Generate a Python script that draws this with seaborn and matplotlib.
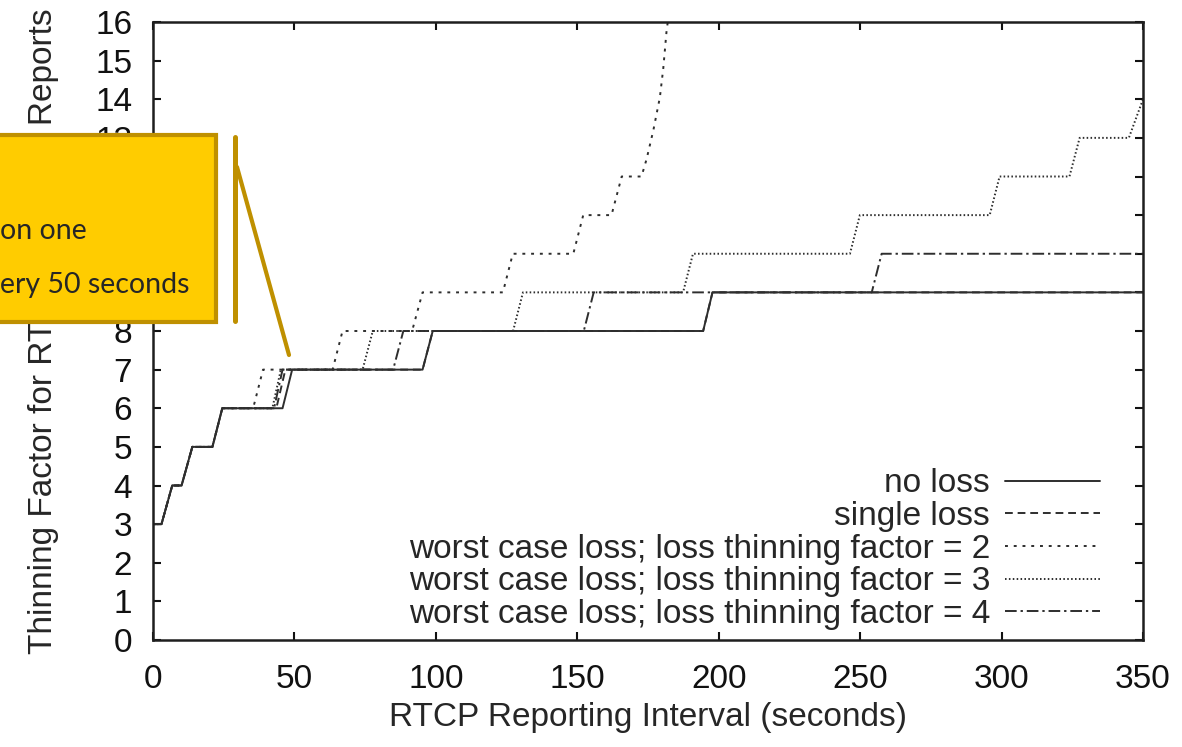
import numpy as np
import pandas as pd
import seaborn as sns
import matplotlib.pyplot as plt
from matplotlib.patches import Rectangle
from matplotlib.lines import Line2D

# step curves (x = RTCP interval in s, y = thinning factor)
no_loss_x = [0, 3, 6.8, 10.1, 13.9, 21, 24.5, 45.8, 49.2, 95.3, 98.9, 194.5, 197.8, 350]
no_loss_y = [3, 3, 4, 4, 5, 5, 6, 6, 7, 7, 8, 8, 9, 9]

single_x = [0, 3, 6.8, 10.1, 13.9, 21, 24.5, 43.6, 46.8, 95.3, 98.9, 194.5, 197.8, 350]
single_y = [3, 3, 4, 4, 5, 5, 6, 6, 7, 7, 8, 8, 9, 9]

f2_x = [0, 3, 6.8, 10.1, 13.9, 21, 24.5, 35.4, 38.9, 63.5, 67.0, 91.6, 95.3, 123.7, 127.2,
        148.6, 152.1, 162.1, 165.7, 172.7, 174.5, 176.9, 179.2, 180.4, 181.6, 182.0]
f2_y = [3, 3, 4, 4, 5, 5, 6, 6, 7, 7, 8, 8, 9, 9, 10,
        10, 11, 11, 12, 12, 12.45, 13.2, 14.05, 14.8, 15.8, 16.0]

f3_x = [0, 3, 6.8, 10.1, 13.9, 21, 24.5, 42.2, 45.2, 74.1, 77.7, 127.3, 130.8, 187.4, 190.9,
        246.4, 249.9, 295.8, 299.3, 324.0, 327.6, 345.0, 350]
f3_y = [3, 3, 4, 4, 5, 5, 6, 6, 7, 7, 8, 8, 9, 9, 10,
        10, 11, 11, 12, 12, 13, 13, 14]

f4_x = [0, 3, 6.8, 10.1, 13.9, 21, 24.5, 42.8, 45.8, 84.9, 88.5, 152.3, 155.8, 254.1, 257.6, 350]
f4_y = [3, 3, 4, 4, 5, 5, 6, 6, 7, 7, 8, 8, 9, 9, 10, 10]

labels = ["no loss", "single loss",
          "worst case loss; loss thinning factor = 2",
          "worst case loss; loss thinning factor = 3",
          "worst case loss; loss thinning factor = 4"]
series = [(no_loss_x, no_loss_y), (single_x, single_y), (f2_x, f2_y), (f3_x, f3_y), (f4_x, f4_y)]
styles = ["-", (0, (4, 2.5)), (0, (1.5, 3)), (0, (0.8, 1.2)), (0, (6, 2, 1.2, 2))]

x_ticks = [0, 50, 100, 150, 200, 250, 300, 350]
y_ticks = list(range(0, 17))

sns.set_style("ticks")
plt.rcParams["font.family"] = ["Liberation Sans", "DejaVu Sans"]

fig = plt.figure(figsize=(11.82, 7.47), dpi=100)
ax = fig.add_axes([153 / 1182, 1 - 640 / 747, 990 / 1182, 618 / 747])

for (xs, ys), lab, ls in zip(series, labels, styles):
    df = pd.DataFrame({"x": xs, "y": ys})
    sns.lineplot(data=df, x="x", y="y", ax=ax, estimator=None, sort=False,
                 color="#2e2e2e", lw=1.4, linestyle=ls, label=lab)

ax.set_xlim(0, 350)
ax.set_ylim(0, 16)
ax.set_xticks(x_ticks)
ax.set_yticks(y_ticks)
ax.tick_params(direction="in", length=6, width=1.5, top=True, right=True,
               labelsize=24, colors="#111111")
ax.tick_params(axis="y", pad=15)
ax.tick_params(axis="x", pad=17)
for sp in ax.spines.values():
    sp.set_linewidth(1.8)
    sp.set_color("#1e1e1e")

ax.set_xlabel("RTCP Reporting Interval (seconds)", fontsize=24)
ax.set_ylabel("Thinning Factor for RTCP Receiver Reports", fontsize=24)
ax.xaxis.set_label_coords(0.5, -0.1)
ax.yaxis.set_label_coords(-0.095, 0.5)

h, l = ax.get_legend_handles_labels()
ax.legend(h, l, loc="lower right", bbox_to_anchor=(1100 / 1182, 1 - 630 / 747),
          bbox_transform=fig.transFigure, markerfirst=False, frameon=False,
          fontsize=24, handlelength=2.85, handletextpad=0.45, labelspacing=0.05,
          borderpad=0, borderaxespad=0)

# yellow callout pasted over the top-left corner
box = Rectangle((-10 / 1182, 1 - 322 / 747), 226 / 1182, 187 / 747,
                transform=fig.transFigure, facecolor="#FFCC00", edgecolor="#BF9000",
                lw=3, zorder=10)
fig.add_artist(box)
fig.add_artist(Line2D([235 / 1182, 235 / 1182], [1 - 137 / 747, 1 - 321 / 747],
                      transform=fig.transFigure, color="#BF9000", lw=3.6, zorder=10))
fig.add_artist(Line2D([237 / 1182, 289 / 1182], [1 - 167 / 747, 1 - 355 / 747],
                      transform=fig.transFigure, color="#BF9000", lw=3, zorder=10))
fig.text(0 / 1182, 1 - 239 / 747, "on one", fontsize=20.5, family=["Lato", "DejaVu Sans"],
         va="baseline", ha="left", zorder=11)
fig.text(0 / 1182, 1 - 293 / 747, "ery 50 seconds", fontsize=20.5, family=["Lato", "DejaVu Sans"],
         va="baseline", ha="left", zorder=11)

fig.savefig("out.png", dpi=100)
